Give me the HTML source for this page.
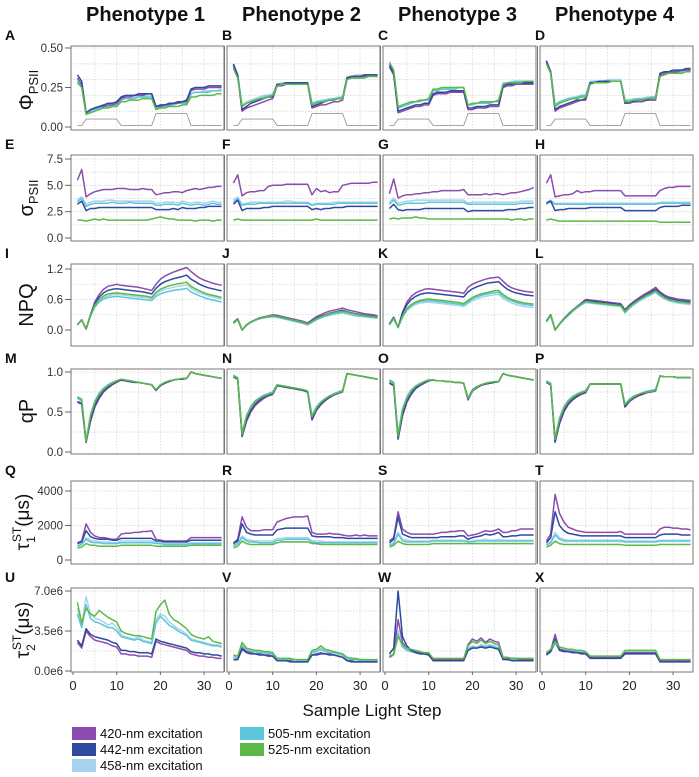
<!DOCTYPE html>
<html><head><meta charset="utf-8"><style>
html,body{margin:0;padding:0;background:#fff;}
svg{display:block;font-family:"Liberation Sans",Arial,sans-serif;}
</style></head><body>
<svg id="fig" width="699" height="777" viewBox="0 0 699 777" xmlns="http://www.w3.org/2000/svg"></svg>
<script>
// ---------- data ----------
const steps = [1,2,3,4,5,6,7,8,9,10,11,12,13,14,15,16,17,18,19,20,21,22,23,24,25,26,27,28,29,30,31,32,33,34];
const wavelengths = ['420','442','458','505','525'];
const seriesColors = ['#8b4cae','#2f4a9c','#a8d3ee','#5cc6da','#5db947'];
const drawOrder = [2,3,0,1,4];
const xTickLabels = [0,10,20,30];
const lightLevel = [.01,.01,.05,.05,.05,.05,.05,.05,.05,.05,.01,.01,.01,.01,.01,.01,.01,.01,.085,.085,.085,.085,.085,.085,.085,.085,.01,.01,.01,.01,.01,.01,.01,.01];

const phiTicks = [0,0.25,0.5];
const phiTickLabels = ['0.00','0.25','0.50'];
const sigTicks = [0,2.5,5,7.5];
const sigTickLabels = ['0.0','2.5','5.0','7.5'];
const npqTicks = [0,0.6,1.2];
const npqTickLabels = ['0.0','0.6','1.2'];
const qpTicks = [0,0.5,1];
const qpTickLabels = ['0.0','0.5','1.0'];
const t1Ticks = [0,2000,4000];
const t1TickLabels = ['0','2000','4000'];
const t2Ticks = [0,3.5,7];
const t2TickLabels = ['0.0e6','3.5e6','7.0e6'];

// PHI
const phi1_420=[.31,.27,.09,.11,.12,.13,.13,.14,.14,.15,.18,.19,.19,.20,.20,.20,.21,.21,.13,.13,.14,.14,.15,.15,.16,.16,.23,.24,.24,.24,.25,.25,.25,.25];
const phi1_442=[.33,.29,.09,.11,.12,.13,.14,.15,.15,.16,.19,.20,.20,.20,.21,.21,.21,.21,.13,.14,.14,.15,.15,.16,.16,.17,.24,.25,.25,.25,.26,.26,.26,.26];
const phi1_458=[.30,.26,.08,.10,.11,.12,.13,.13,.14,.14,.17,.18,.18,.19,.19,.19,.20,.20,.12,.13,.13,.14,.14,.15,.15,.15,.21,.22,.22,.23,.23,.23,.23,.24];
const phi1_505=[.29,.26,.08,.10,.11,.12,.13,.13,.14,.14,.17,.18,.18,.18,.19,.19,.19,.19,.12,.13,.13,.14,.14,.15,.15,.15,.21,.22,.22,.22,.22,.23,.23,.23];
const phi1_525=[.28,.25,.08,.09,.10,.11,.12,.12,.13,.13,.16,.16,.17,.17,.17,.18,.18,.18,.11,.12,.12,.13,.13,.13,.14,.14,.19,.19,.20,.20,.20,.20,.21,.21];
const phi2_420=[.39,.32,.10,.12,.13,.14,.15,.16,.17,.18,.26,.26,.27,.27,.27,.27,.27,.27,.12,.13,.14,.14,.15,.16,.16,.17,.30,.31,.31,.31,.32,.32,.32,.32];
const phi2_442=[.40,.33,.11,.13,.15,.16,.17,.18,.19,.19,.27,.27,.28,.28,.28,.28,.28,.28,.13,.14,.15,.16,.17,.17,.18,.18,.31,.32,.32,.32,.33,.33,.33,.33];
const phi2_458=[.39,.33,.14,.16,.17,.18,.19,.20,.20,.21,.27,.28,.28,.28,.28,.28,.28,.28,.15,.16,.17,.17,.18,.18,.19,.19,.32,.32,.33,.33,.33,.33,.33,.33];
const phi2_505=[.38,.32,.13,.15,.16,.17,.18,.19,.20,.20,.27,.27,.28,.28,.28,.28,.28,.28,.15,.16,.16,.17,.17,.18,.18,.19,.31,.32,.32,.32,.33,.33,.33,.33];
const phi2_525=[.37,.31,.13,.15,.16,.17,.18,.18,.19,.20,.26,.27,.27,.27,.27,.27,.27,.27,.14,.15,.16,.16,.17,.17,.18,.18,.30,.31,.31,.31,.31,.32,.32,.32];
const phi3_420=[.38,.33,.09,.10,.11,.12,.13,.13,.14,.14,.20,.21,.21,.21,.22,.22,.22,.22,.11,.11,.12,.12,.12,.13,.13,.13,.25,.26,.26,.27,.27,.27,.27,.27];
const phi3_442=[.39,.34,.10,.11,.12,.13,.14,.14,.15,.15,.21,.22,.22,.22,.23,.23,.23,.23,.12,.12,.13,.13,.13,.14,.14,.14,.26,.27,.27,.28,.28,.28,.28,.28];
const phi3_458=[.40,.35,.12,.14,.15,.15,.16,.17,.17,.18,.23,.24,.24,.24,.25,.25,.25,.25,.14,.14,.15,.15,.15,.16,.16,.16,.28,.28,.29,.29,.29,.29,.29,.29];
const phi3_505=[.40,.35,.12,.13,.14,.15,.16,.16,.17,.17,.23,.23,.24,.24,.24,.24,.25,.25,.14,.14,.15,.15,.15,.15,.16,.16,.27,.28,.28,.29,.29,.29,.29,.29];
const phi3_525=[.41,.36,.13,.14,.15,.16,.16,.17,.17,.18,.24,.24,.25,.25,.25,.25,.25,.25,.14,.15,.15,.16,.16,.16,.16,.17,.27,.28,.28,.28,.28,.29,.29,.29];
const phi4_420=[.41,.34,.10,.12,.13,.14,.15,.16,.17,.17,.27,.28,.28,.28,.28,.29,.29,.29,.15,.15,.16,.16,.16,.17,.17,.17,.33,.34,.35,.35,.35,.36,.36,.36];
const phi4_442=[.42,.35,.11,.13,.14,.15,.16,.17,.17,.18,.28,.28,.29,.29,.29,.29,.29,.29,.15,.16,.16,.17,.17,.17,.18,.18,.34,.35,.35,.36,.36,.36,.37,.37];
const phi4_458=[.41,.35,.14,.16,.17,.18,.19,.19,.20,.20,.29,.29,.29,.29,.30,.30,.30,.30,.17,.17,.18,.18,.18,.19,.19,.19,.34,.35,.35,.36,.36,.36,.36,.37];
const phi4_505=[.41,.35,.14,.16,.17,.18,.18,.19,.20,.20,.28,.29,.29,.29,.29,.29,.29,.29,.17,.17,.17,.18,.18,.18,.19,.19,.33,.34,.35,.35,.35,.35,.36,.36];
const phi4_525=[.40,.34,.13,.15,.16,.17,.18,.18,.19,.19,.27,.28,.28,.28,.28,.29,.29,.29,.16,.16,.17,.17,.17,.18,.18,.18,.32,.33,.34,.34,.34,.34,.35,.35];
// SIGMA
const sig1_420=[5.5,6.5,3.9,4.2,4.4,4.5,4.6,4.6,4.6,4.7,4.7,4.7,4.6,4.6,4.6,4.7,4.6,4.6,4.1,4.2,4.3,4.3,4.4,4.4,4.3,4.5,4.6,4.7,4.6,4.7,4.8,4.8,4.9,4.9];
const sig1_442=[3.2,3.5,2.6,2.8,2.8,2.9,2.9,2.9,2.9,2.9,2.9,2.9,2.9,2.9,2.9,2.9,2.9,2.9,2.7,2.7,2.7,2.7,2.8,2.7,2.9,2.8,2.8,2.8,2.9,2.9,3.0,3.0,3.0,3.0];
const sig1_458=[3.6,3.9,3.2,3.4,3.5,3.5,3.5,3.6,3.6,3.5,3.5,3.5,3.5,3.5,3.5,3.5,3.5,3.5,3.3,3.3,3.4,3.4,3.4,3.3,3.5,3.4,3.3,3.4,3.4,3.3,3.4,3.5,3.4,3.4];
const sig1_505=[3.4,3.8,3.0,3.2,3.3,3.3,3.3,3.3,3.4,3.3,3.3,3.3,3.4,3.3,3.3,3.3,3.3,3.3,3.1,3.1,3.2,3.2,3.2,3.1,3.3,3.2,3.1,3.2,3.2,3.1,3.2,3.3,3.2,3.2];
const sig1_525=[1.7,1.7,1.6,1.7,1.8,1.7,1.8,1.7,1.7,1.7,1.7,1.7,1.7,1.7,1.7,1.7,1.7,1.8,1.9,2.0,1.9,1.8,1.8,1.7,1.7,1.7,1.7,1.6,1.7,1.7,1.7,1.6,1.7,1.7];
const sig2_420=[5.2,6.0,4.0,4.3,4.4,4.4,4.5,4.5,4.9,5.0,5.0,5.0,5.1,5.1,5.1,5.1,5.1,5.1,4.1,4.7,4.4,4.5,4.3,4.4,4.4,5.0,5.1,5.2,5.2,5.2,5.2,5.2,5.3,5.3];
const sig2_442=[3.2,3.6,2.6,2.8,2.8,2.8,2.8,2.9,2.9,3.0,3.0,3.0,3.0,3.0,3.0,3.0,3.0,3.0,2.7,2.8,2.7,2.8,2.8,2.9,2.9,2.9,3.0,3.0,3.0,3.0,3.0,3.0,3.0,3.0];
const sig2_458=[3.6,3.9,3.2,3.3,3.4,3.4,3.4,3.4,3.4,3.4,3.4,3.4,3.5,3.5,3.4,3.4,3.4,3.4,3.2,3.3,3.3,3.3,3.3,3.4,3.4,3.4,3.4,3.4,3.4,3.4,3.4,3.4,3.4,3.4];
const sig2_505=[3.4,3.7,3.1,3.2,3.2,3.2,3.3,3.3,3.3,3.3,3.3,3.3,3.3,3.3,3.3,3.3,3.3,3.3,3.1,3.2,3.2,3.2,3.2,3.2,3.3,3.3,3.3,3.3,3.3,3.3,3.3,3.3,3.3,3.3];
const sig2_525=[1.7,1.8,1.7,1.7,1.7,1.7,1.7,1.7,1.7,1.7,1.7,1.7,1.7,1.7,1.7,1.7,1.7,1.7,1.7,1.8,1.7,1.7,1.7,1.7,1.7,1.7,1.7,1.7,1.7,1.7,1.7,1.7,1.7,1.7];
const sig3_420=[4.2,5.6,3.8,4.0,4.1,4.1,4.2,4.2,4.3,4.3,4.4,4.4,4.5,4.5,4.5,4.5,4.5,4.6,4.1,4.1,4.1,4.1,4.2,4.1,4.2,4.2,4.1,4.2,4.3,4.3,4.4,4.5,4.6,4.8];
const sig3_442=[2.8,3.2,2.7,2.6,2.7,2.7,2.7,2.7,2.8,2.8,2.8,2.8,2.8,2.8,2.8,2.8,2.8,2.8,2.5,2.6,2.6,2.6,2.6,2.6,2.6,2.6,2.6,2.7,2.7,2.7,2.8,2.8,2.9,2.9];
const sig3_458=[3.4,3.8,3.3,3.4,3.5,3.5,3.6,3.6,3.6,3.6,3.6,3.6,3.6,3.6,3.6,3.6,3.6,3.6,3.3,3.4,3.4,3.4,3.4,3.4,3.4,3.4,3.4,3.4,3.4,3.4,3.5,3.5,3.5,3.5];
const sig3_505=[3.2,3.6,3.1,3.2,3.3,3.3,3.3,3.3,3.3,3.4,3.4,3.4,3.4,3.4,3.4,3.4,3.4,3.4,3.2,3.2,3.2,3.2,3.2,3.2,3.2,3.2,3.2,3.2,3.2,3.2,3.3,3.3,3.3,3.3];
const sig3_525=[1.8,1.9,1.8,1.9,1.9,1.9,2.0,1.9,1.9,1.8,1.8,1.8,1.8,1.8,1.8,1.8,1.8,1.8,1.8,1.8,1.8,1.8,1.8,1.8,1.8,1.8,1.8,1.8,1.7,1.8,1.8,1.7,1.8,1.8];
const sig4_420=[5.2,6.0,3.9,4.0,4.1,4.1,4.2,4.5,4.3,4.4,4.4,4.5,4.5,4.5,4.5,4.5,4.5,4.5,4.0,4.0,4.0,4.0,4.0,4.0,4.0,4.0,4.5,4.7,4.8,4.8,4.9,4.9,4.9,4.9];
const sig4_442=[3.3,3.5,2.6,2.7,2.7,2.8,2.8,2.8,2.8,2.8,2.9,2.9,2.9,2.9,2.9,2.9,2.9,2.9,2.6,2.6,2.6,2.6,2.6,2.6,2.6,2.6,2.9,3.0,3.0,3.0,3.0,3.1,3.1,3.1];
const sig4_458=[3.4,3.6,3.3,3.3,3.3,3.3,3.3,3.3,3.3,3.3,3.3,3.3,3.3,3.3,3.3,3.3,3.3,3.3,3.3,3.3,3.3,3.3,3.3,3.3,3.3,3.3,3.4,3.4,3.4,3.4,3.4,3.4,3.4,3.4];
const sig4_505=[3.2,3.5,3.2,3.2,3.2,3.2,3.2,3.2,3.2,3.2,3.2,3.2,3.2,3.2,3.2,3.2,3.2,3.2,3.2,3.2,3.2,3.2,3.2,3.2,3.2,3.2,3.3,3.3,3.3,3.3,3.3,3.3,3.3,3.3];
const sig4_525=[1.7,1.8,1.7,1.6,1.6,1.6,1.6,1.6,1.6,1.6,1.6,1.6,1.6,1.6,1.6,1.6,1.6,1.6,1.6,1.6,1.6,1.6,1.6,1.6,1.6,1.6,1.5,1.5,1.5,1.5,1.5,1.5,1.5,1.5];
// NPQ
const npq1_420=[.10,.20,.02,.30,.55,.70,.80,.86,.88,.90,.88,.87,.86,.85,.84,.82,.80,.78,.90,1.0,1.06,1.10,1.14,1.17,1.20,1.23,1.15,1.08,1.02,.98,.95,.92,.90,.88];
const npq1_442=[.10,.20,.02,.30,.52,.65,.73,.78,.80,.81,.80,.79,.78,.77,.76,.75,.73,.71,.82,.90,.95,.98,1.01,1.03,1.05,1.08,1.00,.95,.90,.86,.83,.81,.79,.77];
const npq1_458=[.10,.20,.02,.28,.47,.58,.64,.67,.69,.70,.69,.68,.67,.66,.65,.64,.63,.61,.70,.76,.80,.82,.84,.86,.87,.89,.82,.77,.73,.70,.67,.65,.63,.61];
const npq1_505=[.10,.20,.02,.27,.45,.55,.61,.64,.65,.66,.65,.64,.63,.62,.61,.60,.59,.58,.66,.71,.74,.76,.78,.79,.80,.82,.75,.71,.67,.64,.61,.59,.57,.55];
const npq1_525=[.10,.20,.02,.29,.49,.60,.67,.71,.72,.73,.72,.71,.70,.69,.68,.67,.66,.64,.74,.80,.84,.87,.89,.91,.92,.94,.86,.81,.77,.73,.70,.68,.66,.64];
const npq2_420=[.15,.22,.00,.10,.16,.20,.24,.26,.28,.30,.29,.27,.25,.23,.21,.19,.17,.14,.20,.26,.30,.34,.37,.39,.41,.43,.40,.38,.36,.34,.32,.31,.30,.28];
const npq2_442=[.15,.22,.00,.10,.16,.20,.23,.25,.27,.28,.27,.25,.23,.21,.19,.17,.15,.12,.18,.23,.27,.30,.33,.35,.37,.39,.36,.34,.32,.31,.29,.28,.27,.26];
const npq2_458=[.13,.20,.00,.09,.15,.19,.22,.24,.26,.27,.26,.24,.22,.20,.18,.16,.14,.11,.16,.21,.25,.28,.30,.32,.34,.35,.33,.31,.29,.28,.27,.26,.25,.24];
const npq2_505=[.13,.20,.00,.09,.15,.19,.22,.24,.25,.26,.25,.23,.21,.19,.17,.15,.13,.10,.15,.20,.24,.27,.29,.31,.33,.34,.32,.30,.28,.27,.26,.25,.24,.23];
const npq2_525=[.14,.21,.00,.10,.16,.20,.23,.25,.27,.28,.27,.25,.23,.21,.19,.17,.15,.12,.17,.22,.26,.29,.32,.34,.36,.37,.35,.33,.31,.30,.28,.27,.26,.25];
const npq3_420=[.12,.25,.05,.35,.55,.66,.73,.77,.80,.81,.80,.79,.78,.77,.76,.75,.74,.72,.84,.90,.94,.97,1.0,1.02,1.03,1.04,.96,.88,.83,.80,.78,.76,.75,.74];
const npq3_442=[.12,.25,.05,.33,.50,.60,.66,.70,.72,.73,.72,.71,.70,.69,.68,.67,.66,.65,.75,.81,.85,.88,.91,.93,.94,.95,.87,.80,.76,.73,.71,.69,.68,.67];
const npq3_458=[.10,.22,.05,.25,.38,.45,.50,.53,.54,.55,.54,.53,.52,.51,.50,.49,.48,.46,.52,.57,.61,.64,.66,.68,.69,.70,.62,.57,.53,.50,.48,.46,.45,.44];
const npq3_505=[.10,.22,.05,.26,.40,.48,.53,.56,.57,.58,.57,.56,.55,.54,.53,.52,.51,.49,.55,.61,.65,.68,.70,.72,.73,.74,.66,.61,.57,.54,.52,.50,.49,.48];
const npq3_525=[.11,.23,.05,.27,.42,.50,.55,.58,.60,.61,.60,.59,.58,.57,.56,.55,.54,.52,.58,.64,.68,.71,.73,.75,.77,.78,.70,.64,.60,.57,.55,.53,.52,.51];
const npq4_420=[.18,.30,.00,.12,.22,.31,.39,.46,.53,.60,.59,.58,.57,.56,.55,.54,.53,.52,.40,.49,.56,.62,.68,.73,.78,.84,.75,.69,.65,.63,.61,.60,.59,.58];
const npq4_442=[.18,.30,.00,.12,.22,.31,.39,.46,.52,.58,.57,.56,.55,.54,.53,.52,.51,.50,.38,.47,.54,.60,.65,.70,.75,.80,.72,.66,.62,.60,.58,.57,.56,.55];
const npq4_458=[.16,.28,.00,.11,.20,.28,.36,.43,.49,.54,.53,.52,.51,.50,.49,.48,.47,.46,.33,.42,.49,.55,.60,.65,.69,.74,.66,.61,.57,.55,.53,.52,.51,.50];
const npq4_505=[.16,.28,.00,.11,.21,.29,.37,.44,.50,.55,.54,.53,.52,.51,.50,.49,.48,.47,.35,.44,.51,.57,.62,.67,.71,.76,.68,.63,.59,.57,.55,.54,.53,.52];
const npq4_525=[.17,.29,.00,.12,.21,.30,.38,.45,.51,.56,.55,.54,.53,.52,.51,.50,.49,.48,.36,.45,.52,.58,.63,.68,.72,.77,.70,.64,.60,.58,.56,.55,.54,.53];
// qP
const qp1_420=[.62,.60,.12,.38,.56,.67,.75,.80,.84,.87,.90,.89,.88,.87,.87,.86,.85,.84,.77,.83,.86,.88,.90,.91,.91,.92,1.0,.98,.97,.96,.95,.94,.93,.92];
const qp1_442=[.63,.61,.12,.40,.58,.69,.76,.81,.85,.88,.90,.89,.88,.87,.87,.86,.85,.84,.77,.83,.86,.88,.90,.91,.91,.92,1.0,.98,.97,.96,.95,.94,.93,.92];
const qp1_458=[.68,.65,.14,.47,.64,.74,.80,.84,.87,.89,.91,.90,.89,.88,.87,.86,.85,.84,.78,.84,.87,.89,.90,.91,.92,.92,1.0,.98,.97,.96,.95,.94,.93,.92];
const qp1_505=[.67,.64,.14,.46,.63,.73,.79,.84,.87,.89,.91,.90,.89,.88,.87,.86,.85,.84,.78,.84,.87,.89,.90,.91,.92,.92,1.0,.98,.97,.96,.95,.94,.93,.92];
const qp1_525=[.69,.66,.13,.45,.62,.72,.79,.83,.86,.89,.91,.90,.89,.88,.87,.86,.85,.84,.78,.84,.87,.89,.90,.91,.92,.92,1.0,.98,.97,.96,.95,.94,.93,.92];
const qp2_420=[.94,.91,.19,.38,.50,.58,.63,.67,.70,.72,.83,.82,.81,.80,.79,.78,.77,.75,.40,.52,.59,.64,.68,.71,.73,.75,.98,.97,.96,.95,.94,.93,.92,.91];
const qp2_442=[.94,.91,.20,.40,.52,.60,.65,.69,.71,.73,.83,.82,.81,.80,.79,.78,.77,.75,.41,.53,.60,.65,.69,.72,.74,.76,.98,.97,.96,.95,.94,.93,.92,.91];
const qp2_458=[.96,.93,.24,.46,.57,.64,.68,.71,.73,.75,.84,.83,.82,.81,.80,.79,.78,.76,.46,.57,.63,.67,.70,.73,.75,.77,.98,.97,.96,.95,.94,.93,.92,.91];
const qp2_505=[.96,.93,.24,.45,.57,.64,.68,.71,.73,.75,.84,.83,.82,.81,.80,.79,.78,.76,.45,.56,.62,.67,.70,.73,.75,.77,.98,.97,.96,.95,.94,.93,.92,.91];
const qp2_525=[.95,.92,.22,.44,.56,.63,.67,.70,.72,.74,.84,.83,.82,.81,.80,.79,.78,.76,.44,.55,.62,.66,.70,.72,.74,.76,.98,.97,.96,.95,.94,.93,.92,.91];
const qp3_420=[.86,.83,.16,.45,.62,.72,.79,.83,.86,.89,.90,.89,.89,.88,.88,.87,.87,.86,.65,.76,.80,.83,.85,.86,.87,.88,.98,.96,.95,.94,.93,.92,.91,.90];
const qp3_442=[.86,.83,.17,.47,.64,.73,.80,.84,.87,.89,.90,.89,.89,.88,.88,.87,.87,.86,.66,.77,.81,.84,.85,.86,.87,.88,.98,.96,.95,.94,.93,.92,.91,.90];
const qp3_458=[.89,.86,.22,.55,.70,.78,.83,.86,.88,.90,.90,.89,.89,.88,.88,.87,.87,.86,.68,.78,.82,.84,.86,.87,.88,.88,.98,.96,.95,.94,.93,.92,.91,.90];
const qp3_505=[.88,.85,.21,.53,.68,.77,.82,.85,.88,.90,.90,.89,.89,.88,.88,.87,.87,.86,.67,.78,.82,.84,.86,.87,.88,.88,.98,.96,.95,.94,.93,.92,.91,.90];
const qp3_525=[.90,.87,.20,.52,.67,.76,.82,.85,.88,.90,.90,.89,.89,.88,.88,.87,.87,.86,.67,.77,.81,.84,.86,.87,.88,.88,.98,.96,.95,.94,.93,.92,.91,.90];
const qp4_420=[.87,.84,.12,.35,.50,.59,.65,.69,.72,.74,.85,.85,.85,.85,.85,.85,.85,.85,.56,.63,.67,.70,.72,.74,.75,.76,.95,.94,.94,.94,.93,.93,.93,.93];
const qp4_442=[.87,.84,.13,.37,.52,.61,.66,.70,.73,.75,.85,.85,.85,.85,.85,.85,.85,.85,.57,.64,.68,.71,.73,.75,.76,.77,.95,.94,.94,.94,.93,.93,.93,.93];
const qp4_458=[.89,.86,.17,.43,.57,.65,.70,.73,.75,.77,.85,.85,.85,.85,.85,.85,.85,.85,.60,.66,.70,.72,.74,.76,.77,.78,.95,.94,.94,.94,.93,.93,.93,.93];
const qp4_505=[.89,.86,.17,.42,.56,.64,.69,.72,.75,.77,.85,.85,.85,.85,.85,.85,.85,.85,.59,.66,.70,.72,.74,.76,.77,.78,.95,.94,.94,.94,.93,.93,.93,.93];
const qp4_525=[.88,.85,.16,.41,.55,.63,.68,.72,.74,.76,.85,.85,.85,.85,.85,.85,.85,.85,.59,.65,.69,.72,.74,.75,.76,.77,.95,.94,.94,.94,.93,.93,.93,.93];
// TAU1
const ta1_420=[1000,1100,2100,1600,1400,1300,1300,1250,1200,1200,1500,1550,1550,1600,1600,1650,1650,1700,1200,1150,1100,1100,1100,1100,1100,1100,1300,1300,1300,1300,1300,1300,1300,1300];
const ta1_442=[950,1050,1700,1350,1250,1200,1200,1200,1150,1150,1250,1250,1250,1250,1250,1250,1250,1250,1100,1100,1050,1050,1050,1050,1050,1050,1150,1150,1150,1150,1150,1150,1150,1150];
const ta1_458=[850,950,1300,1150,1100,1050,1050,1050,1000,1000,1100,1100,1100,1100,1100,1100,1100,1100,1000,1000,1000,950,950,950,950,950,1000,1000,1000,1000,1000,1000,1000,1000];
const ta1_505=[800,900,1200,1050,1000,1000,950,950,950,950,1000,1000,1000,1000,1000,1000,1000,1000,950,950,900,900,900,900,900,900,950,950,950,950,950,950,950,950];
const ta1_525=[700,750,950,850,850,800,800,800,800,800,850,850,850,850,850,850,850,850,800,800,800,800,800,800,800,800,850,850,850,850,850,850,850,850];
const ta2_420=[1000,1200,2500,1900,1700,1700,1700,1750,1750,1750,2200,2300,2400,2450,2500,2500,2500,2550,1600,1500,1500,1500,1550,1500,1500,1450,1400,1400,1450,1400,1450,1400,1400,1400];
const ta2_442=[950,1100,2100,1600,1500,1450,1450,1450,1450,1450,1750,1800,1850,1850,1850,1850,1850,1850,1400,1350,1350,1350,1350,1300,1300,1300,1250,1250,1250,1250,1250,1250,1250,1250];
const ta2_458=[850,1000,1400,1200,1150,1100,1100,1100,1100,1100,1250,1250,1300,1300,1300,1300,1300,1300,1100,1100,1100,1050,1050,1050,1050,1050,1050,1050,1050,1050,1050,1050,1050,1050];
const ta2_505=[800,950,1300,1100,1050,1050,1000,1000,1000,1000,1150,1150,1200,1200,1200,1200,1200,1200,1050,1000,1000,1000,1000,1000,1000,1000,1000,1000,1000,1000,1000,1000,1000,1000];
const ta2_525=[700,800,1100,950,900,900,900,900,900,900,1000,1050,1050,1050,1050,1050,1050,1050,950,950,900,900,900,900,900,900,900,900,900,900,900,900,900,900];
const ta3_420=[1100,1300,2800,1800,1600,1500,1500,1500,1500,1500,1500,1550,1600,1600,1650,1650,1700,1700,1400,1450,1500,1600,1700,1650,1700,1800,1600,1600,1700,1700,1800,1800,1800,1800];
const ta3_442=[1000,1200,2500,1500,1400,1300,1300,1300,1300,1300,1300,1300,1350,1350,1350,1350,1400,1400,1200,1300,1350,1400,1500,1450,1500,1600,1350,1350,1400,1400,1450,1450,1450,1450];
const ta3_458=[900,1000,1600,1200,1150,1100,1100,1100,1100,1100,1150,1150,1150,1150,1150,1150,1150,1150,1100,1100,1150,1150,1200,1150,1150,1200,1150,1150,1150,1150,1150,1150,1150,1150];
const ta3_505=[850,950,1500,1100,1050,1050,1050,1050,1050,1050,1100,1100,1100,1100,1100,1100,1100,1100,1050,1050,1100,1100,1100,1100,1100,1100,1100,1100,1100,1100,1100,1100,1100,1100];
const ta3_525=[750,850,1100,950,900,900,900,900,900,900,950,950,950,950,950,950,950,950,950,950,950,950,950,950,950,950,950,950,950,950,950,950,950,950];
const ta4_420=[1100,1500,3800,2700,2200,1900,1800,1700,1650,1600,1600,1600,1600,1600,1600,1600,1600,1650,1500,1500,1500,1500,1500,1500,1500,1500,1800,1900,1900,1850,1850,1800,1800,1750];
const ta4_442=[1000,1300,2800,2000,1700,1550,1500,1450,1400,1400,1400,1400,1400,1400,1400,1400,1400,1400,1300,1300,1300,1300,1300,1300,1300,1300,1450,1500,1500,1500,1500,1450,1450,1450];
const ta4_458=[900,1050,1600,1300,1200,1150,1150,1150,1150,1150,1150,1150,1150,1150,1150,1150,1150,1150,1100,1100,1100,1100,1100,1100,1100,1100,1150,1150,1150,1150,1150,1150,1150,1150];
const ta4_505=[850,1000,1450,1200,1100,1100,1100,1100,1100,1100,1100,1100,1100,1100,1100,1100,1100,1100,1050,1050,1050,1050,1050,1050,1050,1050,1100,1100,1100,1100,1100,1100,1100,1100];
const ta4_525=[750,850,1100,950,900,900,900,900,900,900,900,900,900,900,900,900,900,900,850,850,850,850,850,850,850,850,900,900,900,900,900,900,900,900];
// TAU2 (x1e6)
const tb1_420=[2.5,2.0,3.5,3.0,2.7,2.6,2.5,2.4,2.2,2.1,1.5,1.5,1.4,1.4,1.3,1.3,1.3,1.2,2.6,2.4,2.3,2.2,2.1,2.0,1.9,1.8,1.5,1.4,1.3,1.3,1.2,1.2,1.1,1.1];
const tb1_442=[2.7,2.2,3.7,3.2,3.0,2.9,2.8,2.7,2.5,2.4,1.8,1.8,1.7,1.7,1.6,1.6,1.6,1.5,2.8,2.6,2.5,2.4,2.3,2.2,2.1,2.0,1.7,1.6,1.6,1.5,1.5,1.4,1.4,1.3];
const tb1_458=[5.5,4.0,6.5,5.0,4.6,4.5,4.3,4.0,4.2,3.8,3.2,3.0,2.9,2.8,3.0,2.7,2.6,2.5,4.5,5.0,4.8,4.3,4.0,3.7,3.5,3.2,2.8,2.7,2.6,2.5,2.4,2.3,2.3,2.2];
const tb1_505=[5.0,3.8,5.8,4.6,4.3,4.2,4.0,3.8,3.8,3.5,3.0,2.9,2.8,2.7,2.8,2.6,2.5,2.4,4.2,4.8,4.4,4.0,3.8,3.5,3.3,3.1,2.7,2.6,2.5,2.4,2.3,2.2,2.2,2.1];
const tb1_525=[6.0,4.2,5.5,5.0,4.8,5.3,5.0,4.7,4.5,4.3,3.5,3.3,3.2,3.1,3.1,3.0,2.9,2.8,5.2,5.8,6.2,5.0,4.5,4.3,4.0,3.7,3.2,3.0,2.9,2.8,3.0,2.6,2.5,2.4];
const tb2_420=[1.0,1.0,2.0,1.7,1.6,1.5,1.5,1.4,1.4,1.3,0.9,0.9,0.9,0.9,0.8,0.8,0.8,0.8,1.4,1.5,1.6,1.5,1.5,1.4,1.3,1.2,0.9,0.9,0.8,0.8,0.8,0.8,0.8,0.8];
const tb2_442=[1.0,1.0,1.9,1.6,1.5,1.5,1.4,1.4,1.3,1.3,0.9,0.9,0.9,0.8,0.8,0.8,0.8,0.8,1.4,1.4,1.5,1.5,1.4,1.4,1.3,1.2,0.9,0.8,0.8,0.8,0.8,0.8,0.8,0.8];
const tb2_458=[1.3,1.2,2.3,1.9,1.8,1.7,1.7,1.6,1.6,1.5,1.1,1.1,1.0,1.0,1.0,1.0,1.0,1.0,1.7,1.8,2.0,1.8,1.7,1.6,1.5,1.4,1.1,1.0,1.0,1.0,1.0,0.9,0.9,0.9];
const tb2_505=[1.2,1.1,2.2,1.8,1.7,1.7,1.6,1.6,1.5,1.5,1.0,1.0,1.0,1.0,1.0,0.9,0.9,0.9,1.6,1.7,1.9,1.7,1.6,1.6,1.5,1.4,1.0,1.0,1.0,0.9,0.9,0.9,0.9,0.9];
const tb2_525=[1.4,1.3,2.5,2.0,1.9,1.8,1.8,1.7,1.7,1.6,1.1,1.1,1.1,1.1,1.0,1.0,1.0,1.0,1.8,1.9,2.2,1.9,1.8,1.7,1.6,1.5,1.2,1.1,1.1,1.0,1.0,1.0,1.0,1.0];
const tb3_420=[1.2,1.5,4.5,2.5,2.0,1.8,1.7,1.6,1.6,1.5,1.0,1.0,1.0,1.0,1.0,1.0,1.0,1.0,2.3,2.8,2.6,2.9,2.5,2.8,2.6,2.5,1.2,1.1,1.1,1.1,1.0,1.0,1.0,1.0];
const tb3_442=[1.5,2.0,7.0,3.0,2.2,1.8,1.6,1.5,1.5,1.4,0.9,0.9,0.9,0.9,0.9,0.9,0.9,0.9,1.8,2.0,2.0,2.1,2.0,2.1,2.0,1.9,1.0,1.0,0.9,0.9,0.9,0.9,0.9,0.9];
const tb3_458=[1.2,1.4,3.5,2.2,1.8,1.7,1.6,1.5,1.5,1.4,1.0,1.0,1.0,1.0,1.0,1.0,1.0,1.0,2.0,2.2,2.1,2.3,2.2,2.3,2.2,2.1,1.1,1.1,1.0,1.0,1.0,1.0,1.0,1.0];
const tb3_505=[1.2,1.4,3.2,2.1,1.8,1.7,1.6,1.5,1.5,1.4,1.0,1.0,1.0,1.0,1.0,1.0,1.0,1.0,1.9,2.1,2.0,2.2,2.1,2.2,2.1,2.0,1.1,1.0,1.0,1.0,1.0,1.0,1.0,1.0];
const tb3_525=[1.3,1.5,3.0,2.3,2.0,1.9,1.8,1.7,1.6,1.6,1.1,1.1,1.1,1.1,1.1,1.1,1.1,1.1,2.2,2.6,2.4,2.7,2.4,2.6,2.4,2.3,1.2,1.2,1.1,1.1,1.1,1.1,1.1,1.1];
const tb4_420=[1.5,1.8,3.2,1.9,1.8,1.7,1.7,1.6,1.6,1.5,1.2,1.2,1.2,1.2,1.2,1.2,1.2,1.2,1.6,1.6,1.6,1.6,1.6,1.6,1.6,1.6,0.9,0.9,0.9,0.9,0.9,0.9,0.9,0.9];
const tb4_442=[1.4,1.7,2.8,1.8,1.7,1.7,1.6,1.6,1.5,1.5,1.1,1.1,1.1,1.1,1.1,1.1,1.1,1.1,1.5,1.5,1.5,1.5,1.5,1.5,1.5,1.5,0.8,0.8,0.8,0.8,0.8,0.8,0.8,0.8];
const tb4_458=[1.5,1.8,2.5,2.0,1.9,1.8,1.8,1.7,1.7,1.6,1.3,1.3,1.3,1.3,1.3,1.3,1.3,1.3,1.7,1.7,1.7,1.7,1.7,1.7,1.7,1.7,1.0,1.0,1.0,1.0,1.0,1.0,1.0,1.0];
const tb4_505=[1.4,1.7,2.4,1.9,1.8,1.8,1.7,1.7,1.6,1.6,1.2,1.2,1.2,1.2,1.2,1.2,1.2,1.2,1.6,1.6,1.6,1.6,1.6,1.6,1.6,1.6,0.9,0.9,0.9,0.9,0.9,0.9,0.9,0.9];
const tb4_525=[1.6,1.9,2.6,2.1,2.0,1.9,1.9,1.8,1.8,1.7,1.3,1.3,1.3,1.3,1.3,1.3,1.3,1.3,1.8,1.8,1.8,1.8,1.8,1.8,1.8,1.8,1.0,1.0,1.0,1.0,1.0,1.0,1.0,1.0];

const rowSeries = [
  [[phi1_420,phi1_442,phi1_458,phi1_505,phi1_525],[phi2_420,phi2_442,phi2_458,phi2_505,phi2_525],[phi3_420,phi3_442,phi3_458,phi3_505,phi3_525],[phi4_420,phi4_442,phi4_458,phi4_505,phi4_525]],
  [[sig1_420,sig1_442,sig1_458,sig1_505,sig1_525],[sig2_420,sig2_442,sig2_458,sig2_505,sig2_525],[sig3_420,sig3_442,sig3_458,sig3_505,sig3_525],[sig4_420,sig4_442,sig4_458,sig4_505,sig4_525]],
  [[npq1_420,npq1_442,npq1_458,npq1_505,npq1_525],[npq2_420,npq2_442,npq2_458,npq2_505,npq2_525],[npq3_420,npq3_442,npq3_458,npq3_505,npq3_525],[npq4_420,npq4_442,npq4_458,npq4_505,npq4_525]],
  [[qp1_420,qp1_442,qp1_458,qp1_505,qp1_525],[qp2_420,qp2_442,qp2_458,qp2_505,qp2_525],[qp3_420,qp3_442,qp3_458,qp3_505,qp3_525],[qp4_420,qp4_442,qp4_458,qp4_505,qp4_525]],
  [[ta1_420,ta1_442,ta1_458,ta1_505,ta1_525],[ta2_420,ta2_442,ta2_458,ta2_505,ta2_525],[ta3_420,ta3_442,ta3_458,ta3_505,ta3_525],[ta4_420,ta4_442,ta4_458,ta4_505,ta4_525]],
  [[tb1_420,tb1_442,tb1_458,tb1_505,tb1_525],[tb2_420,tb2_442,tb2_458,tb2_505,tb2_525],[tb3_420,tb3_442,tb3_458,tb3_505,tb3_525],[tb4_420,tb4_442,tb4_458,tb4_505,tb4_525]]
];

// ---------- layout ----------
const NS='http://www.w3.org/2000/svg';
const svg=document.getElementById('fig');
function mk(tag,attrs,parent){const e=document.createElementNS(NS,tag);for(const k in attrs)e.setAttribute(k,attrs[k]);(parent||svg).appendChild(e);return e;}

const panelLeft=[71,227,383,540];
const panelW=153;
const stepPx=4.37;
const rows=[
  {top:46,bot:130,v0:0,p0:127,v1:0.5,p1:48,ticks:phiTicks,labels:phiTickLabels,grid:0.1,name:'phi-psii'},
  {top:155,bot:241,v0:0,p0:238,v1:7.5,p1:159,ticks:sigTicks,labels:sigTickLabels,grid:1.25,name:'sigma-psii'},
  {top:264,bot:346,v0:0,p0:330,v1:1.2,p1:269,ticks:npqTicks,labels:npqTickLabels,grid:0.3,name:'npq'},
  {top:369,bot:454,v0:0,p0:452,v1:1.0,p1:372,ticks:qpTicks,labels:qpTickLabels,grid:0.25,name:'qp'},
  {top:481,bot:564,v0:0,p0:560,v1:4000,p1:491,ticks:t1Ticks,labels:t1TickLabels,grid:1000,name:'tau1'},
  {top:588,bot:672,v0:0,p0:671,v1:7,p1:591,ticks:t2Ticks,labels:t2TickLabels,grid:1.75,name:'tau2'}
];
const letters=['ABCD','EFGH','IJKL','MNOP','QRST','UVWX'];

function xScale(p,s){return panelLeft[p]+2+s*stepPx;}
function yScale(r,v){return r.p0+(v-r.v0)*(r.p1-r.p0)/(r.v1-r.v0);}

['Phenotype 1','Phenotype 2','Phenotype 3','Phenotype 4'].forEach((t,i)=>{
  const e=mk('text',{x:panelLeft[i]+panelW/2-2,y:21,'text-anchor':'middle','font-size':'20','font-weight':'bold',fill:'#111'});
  e.textContent=t;
  
  
});

rows.forEach((r,ri)=>{
  for(let p=0;p<4;p++){
    const g=mk('g',{});
    
    
    const L=panelLeft[p],R=L+panelW;
    const lx = p===0?5:L-5;
    const lt=mk('text',{x:lx,y:r.top-6,'font-size':'14','font-weight':'bold',fill:'#111'},g);
    lt.textContent=letters[ri][p];
    
    
    for(let s=5;s<=34;s+=5){
      const x=xScale(p,s);
      const gl=mk('line',{x1:x,x2:x,y1:r.top,y2:r.bot,stroke:'#d8d8d8','stroke-width':'0.8','stroke-dasharray':'1.5,1.5'},g);
      
      
    }
    for(let v=r.v0+r.grid; yScale(r,v)>r.top+1; v+=r.grid){
      const y=yScale(r,v);
      const hl=mk('line',{x1:L,x2:R,y1:y,y2:y,stroke:'#d4d4d4','stroke-width':'0.8','stroke-dasharray':'1.5,1.5'},g);
      
      
    }
    if(ri===0){
      const pts=steps.map((s,i)=>xScale(p,s).toFixed(1)+','+yScale(r,lightLevel[i]).toFixed(1)).join(' ');
      const ll=mk('polyline',{points:pts,fill:'none',stroke:'#999','stroke-width':'0.9'},g);
      
      
    }
    const ser=rowSeries[ri][p];
    drawOrder.forEach(ci=>{
      const arr=ser[ci];
      const pts=arr.map((v,i)=>xScale(p,steps[i]).toFixed(1)+','+yScale(r,v).toFixed(1)).join(' ');
      const pl=mk('polyline',{points:pts,fill:'none',stroke:seriesColors[ci],'stroke-width':'1.5','stroke-linejoin':'round'},g);
      
      
    });
    const bx=mk('rect',{x:L,y:r.top,width:panelW,height:r.bot-r.top,fill:'none',stroke:'#777','stroke-width':'1'},g);
    
    
    if(p>0){
      const sep=mk('line',{x1:L-2.5,x2:L-2.5,y1:r.top,y2:r.bot,stroke:'#777','stroke-width':'1'},g);
      
      
    }
    if(p===0){
      r.ticks.forEach((v,i)=>{
        const y=yScale(r,v);
        const tk=mk('line',{x1:65,x2:L,y1:y,y2:y,stroke:'#666','stroke-width':'1'},g);
        
        
        const tl=mk('text',{x:63,y:y+4,'text-anchor':'end','font-size':'11.5',fill:'#333'},g);
        tl.textContent=r.labels[i];
        
        
      });
    }
    if(ri===rows.length-1){
      xTickLabels.forEach(v=>{
        const x=xScale(p,v);
        const tk=mk('line',{x1:x,x2:x,y1:r.bot,y2:r.bot+3,stroke:'#666','stroke-width':'1'},g);
        
        
        const tl=mk('text',{x:x,y:690,'text-anchor':'middle','font-size':'13',fill:'#222'},g);
        tl.textContent=String(v);
        
        
      });
    }
  }
});

function yTitle(cx,cy,name,build){
  const t=mk('text',{transform:'translate('+cx+','+cy+') rotate(-90)','text-anchor':'middle','font-size':'20',fill:'#111'});
  build(t);
  
  
}
function ts(parent,txt,attrs){const e=mk('tspan',attrs||{},parent);e.textContent=txt;return e;}
yTitle(33,90,'y-axis-title-phi',t=>{ts(t,'Φ');ts(t,'PSII',{'font-size':'13',dy:'5'});});
yTitle(33,198,'y-axis-title-sigma',t=>{ts(t,'σ');ts(t,'PSII',{'font-size':'13',dy:'5'});});
yTitle(33,305,'y-axis-title-npq',t=>{ts(t,'NPQ');});
yTitle(33,411,'y-axis-title-qp',t=>{ts(t,'qP');});
yTitle(29,522,'y-axis-title-tau1',t=>{t.setAttribute('font-size','19');ts(t,'τ');ts(t,'1',{'font-size':'12',dy:'6'});ts(t,'ST',{'font-size':'12',dy:'-14',dx:'-6'});ts(t,'(μs)',{dy:'8'});});
yTitle(29,630,'y-axis-title-tau2',t=>{t.setAttribute('font-size','19');ts(t,'τ');ts(t,'2',{'font-size':'12',dy:'6'});ts(t,'ST',{'font-size':'12',dy:'-14',dx:'-6'});ts(t,'(μs)',{dy:'8'});});

const xt=mk('text',{x:372,y:716,'text-anchor':'middle','font-size':'17',fill:'#111'});
xt.textContent='Sample Light Step';



const legendPos=[[72,727],[72,743],[72,759],[240,727],[240,743]];
const legendColorIdx=[0,1,2,3,4];
legendColorIdx.forEach((ci,i)=>{
  const [lx,ly]=legendPos[i];
  const g=mk('g',{});
  
  
  mk('rect',{x:lx,y:ly,width:24,height:13,fill:seriesColors[ci]},g);
  const t=mk('text',{x:lx+28,y:ly+11,'font-size':'13',fill:'#111'},g);
  t.textContent=wavelengths[ci]+'-nm excitation';
});
</script>
</body></html>
